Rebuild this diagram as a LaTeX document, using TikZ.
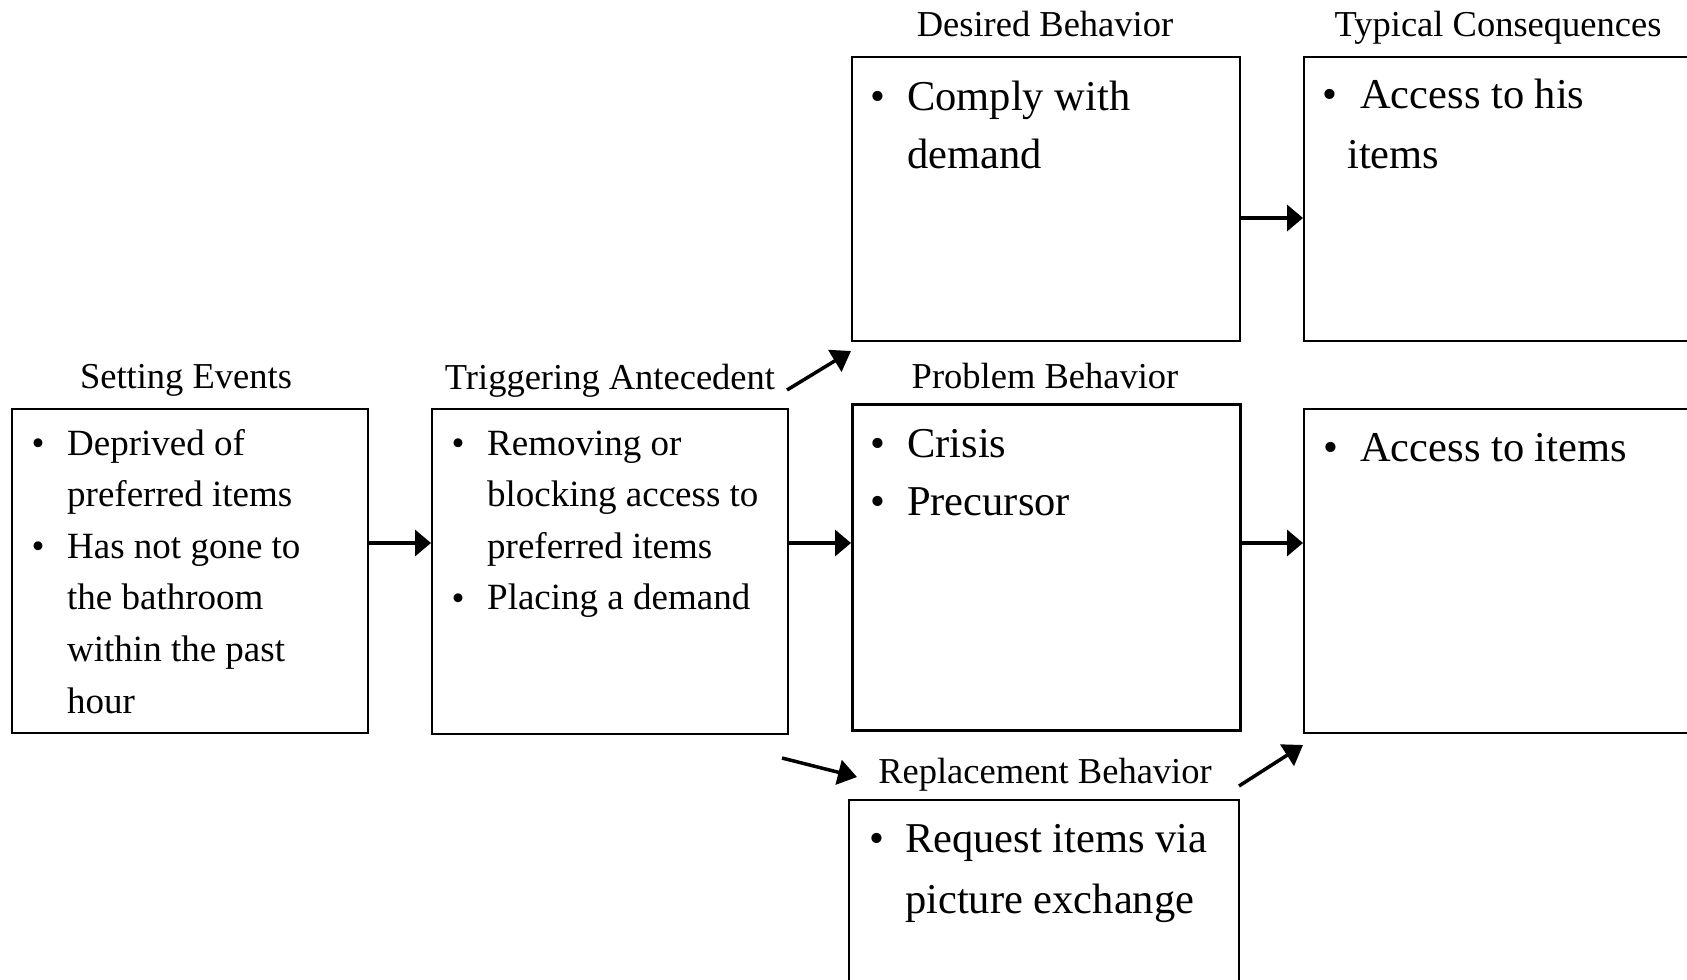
\documentclass[tikz,border=0pt]{standalone}
\usepackage{fontspec}
\setmainfont{Liberation Serif}
\usetikzlibrary{arrows.meta}
\begin{document}
\begin{tikzpicture}[x=1pt,y=-1pt,
  box/.style={draw=black, line width=2pt, inner sep=0pt, anchor=north west},
  title/.style={anchor=base, inner sep=0pt, font=\fontsize{36.5}{44}\selectfont},
  dotsmall/.style={anchor=base, inner sep=0pt, font=\fontsize{37}{44}\selectfont},
  dotlarge/.style={anchor=base, inner sep=0pt, font=\fontsize{42.5}{50}\selectfont},
  small/.style={anchor=base west, inner sep=0pt, font=\fontsize{37}{51.6}\selectfont},
  large/.style={anchor=base west, inner sep=0pt, font=\fontsize{42.5}{58}\selectfont},
  flow/.style={line width=3.5pt, -{Triangle[length=16pt,width=26pt]}},
  slant/.style={line width=3.5pt, -{Triangle[length=19pt,width=25pt]}},
]
% page frame
\fill[white] (0,0) rectangle (1687,980);
\useasboundingbox (0,0) rectangle (1687,980);
\clip (0,0) rectangle (1687,980);

% boxes
\node[box, minimum width=356pt, minimum height=324pt] (se) at (11,408) {};
\node[box, minimum width=356pt, minimum height=325pt] (ta) at (431,408) {};
\node[box, minimum width=388pt, minimum height=284pt] (db) at (851,56) {};
\node[box, line width=2.5pt, minimum width=388pt, minimum height=326pt] (pb) at (851,403) {};
\node[box, minimum width=390pt, minimum height=300pt] (rb) at (848,799) {};
\node[box, minimum width=420pt, minimum height=284pt] (tc) at (1303,56) {};
\node[box, minimum width=420pt, minimum height=324pt] (ac) at (1303,408) {};

% headings
\node[title] (sel) at (186,388) {Setting Events};
\node[title] (tal) at (610,389) {Triggering Antecedent};
\node[title] (dbl) at (1045,36) {Desired Behavior};
\node[title] (tcl) at (1498,36) {Typical Consequences};
\node[title] (pbl) at (1045,388) {Problem Behavior};
\node[title] (rbl) at (1045,783) {Replacement Behavior};

% setting events
\node[dotsmall] (seb1) at (38,455) {\textbullet};
\node[dotsmall] (seb2) at (38,558.2) {\textbullet};
\node[small] (set) at (67,455) {\parbox[t]{290pt}{Deprived of\\preferred items\\Has not gone to\\the bathroom\\within the past\\hour}};

% triggering antecedent
\node[dotsmall] (tab1) at (458,455) {\textbullet};
\node[dotsmall] (tab2) at (458,610.1) {\textbullet};
\node[small] (tat) at (487,455) {\parbox[t]{295pt}{Removing or\\blocking access to\\preferred items\\Placing a demand}};

% desired behavior
\node[dotlarge] (dbb) at (878,110) {\textbullet};
\node[large] (dbt) at (907,110) {\parbox[t]{320pt}{Comply with\\demand}};

% problem behavior
\node[dotlarge] (pbb1) at (878,457) {\textbullet};
\node[dotlarge] (pbb2) at (878,515) {\textbullet};
\node[large] (pbt) at (907,457) {\parbox[t]{320pt}{Crisis\\Precursor}};

% typical consequences
\node[dotlarge] (tcb) at (1330,108) {\textbullet};
\node[large, font=\fontsize{42.5}{60}\selectfont] (tct) at (1347,108) {\parbox[t]{330pt}{\hspace*{13pt}Access to his\\items}};

% consequences of the problem behavior
\node[dotlarge] (acb) at (1331,461) {\textbullet};
\node[large] (act) at (1360,461) {Access to items};

% replacement behavior
\node[dotlarge] (rbb) at (877,852) {\textbullet};
\node[large, font=\fontsize{42.5}{61}\selectfont] (rbt) at (905,852) {\parbox[t]{320pt}{Request items via\\picture exchange}};

% connectors
\coordinate (midrow) at (0,543);
\coordinate (toprow) at (0,218);
\draw[flow] (se.east |- midrow) -- (ta.west |- midrow);
\draw[flow] (ta.east |- midrow) -- (pb.west |- midrow);
\draw[flow] (pb.east |- midrow) -- (ac.west |- midrow);
\draw[flow] (db.east |- toprow) -- (tc.west |- toprow);

\coordinate (upS) at (787,390);
\coordinate (upE) at (851,351);
\draw[slant] (upS) -- (upE);
\coordinate (dnS) at (782,758);
\coordinate (dnE) at (857,777);
\draw[slant] (dnS) -- (dnE);
\coordinate (rcS) at (1239,786);
\coordinate (rcE) at (1303,745);
\draw[slant] (rcS) -- (rcE);
\end{tikzpicture}
\end{document}
